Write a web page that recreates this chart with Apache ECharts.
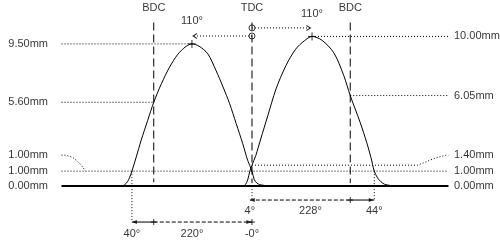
<!DOCTYPE html>
<html>
<head>
<meta charset="utf-8">
<script src="https://cdn.jsdelivr.net/npm/echarts@6/dist/echarts.min.js"></script>
<style>html,body{margin:0;padding:0;background:#fff}#c{width:500px;height:240px}</style>
</head>
<body>
<div id="c"></div>
<script>
// ---- data (crank degrees, TDC = 0; lift in mm) ----
const refNames = ['BDC', 'TDC', 'BDC'];
const refAngles = [-180, 0, 180];
const exhaustLift = [[-238,0],[-233,0.1],[-228,0.3],[-224,0.6],[-220,1.0],[-212,1.95],[-203,3.07],[-191,4.4],[-180,5.6],[-166,6.84],[-151,7.95],[-136,8.8],[-121,9.33],[-110,9.5],[-97,9.35],[-81,8.84],[-66,7.73],[-53,6.62],[-41,5.51],[-29,4.18],[-17,2.84],[-8,1.73],[0,1.0],[4,0.45],[9,0.2],[14,0.1],[22,0.05],[30,0]];
const intakeLift = [[-16,0],[-12,0.1],[-8,0.4],[-4,1.0],[0,1.4],[7,2.05],[16,3.15],[29,4.71],[44,6.49],[62,8.04],[80,9.15],[96,9.71],[110,10],[128,9.75],[150,8.9],[168,7.4],[180,6.05],[198,4.27],[210,2.93],[218,1.9],[224,1.0],[230,0.55],[236,0.3],[243,0.12],[252,0.05],[258,0]];
const exhaustPeak = [-110, 9.5];
const intakePeak = [110, 10.0];
const checkLift = 1.0;
const exhaustOpen = -220, exhaustClose = 0;
const intakeOpen = -4, intakeClose = 224;
const exhaustAtBDC = 5.6, intakeAtBDC = 6.05;
const exhaustAtTDC = 1.0, intakeAtTDC = 1.4;
const leftTickLabels = ['9.50mm', '5.60mm', '1.00mm', '1.00mm', '0.00mm'];
const rightTickLabels = ['10.00mm', '6.05mm', '1.40mm', '1.00mm', '0.00mm'];
const peakLabels = ['110°', '110°'];
const exhaustTimingLabels = ['40°', '220°', '-0°'];
const intakeTimingLabels = ['4°', '228°', '44°'];

// ---- layout constants ----
const X_MIN = -349, X_MAX = 360;
const TOP_TEXT = 11.87, REF_TOP = 10.93;
const ROW_IN = -0.93, ROW_EX = -2.4, LAB_IN = -1.67, LAB_EX = -3.2;
const LEADER = 2.07;
const DOT = [1, 2], DASH = [8, 4];
const FONT = { fontFamily: 'Liberation Sans, Arial, sans-serif', fontSize: 11, color: '#000' };

const series = [];
function seg(points, type, width) {
  series.push({ type: 'line', data: points, symbol: 'none', silent: true, animation: false,
    lineStyle: { color: '#000', width: width || 1, type: type || 'solid' } });
}
function marks(points, symbol, size, filled, offset) {
  series.push({ type: 'scatter', data: points, symbol: symbol, symbolSize: size, silent: true,
    animation: false, clip: false, symbolOffset: offset || [0, 0],
    itemStyle: filled ? { color: '#000' } : { color: 'transparent', borderColor: '#000', borderWidth: 1 } });
}
function texts(points, position, distance) {
  series.push({ type: 'scatter', data: points, symbolSize: 1, silent: true, animation: false, clip: false,
    itemStyle: { color: 'transparent' },
    label: Object.assign({ show: true, position: position, distance: distance || 0,
      formatter: p => p.value[2] }, FONT) });
}

// curves
seg(exhaustLift, 'solid', 1);
seg(intakeLift, 'solid', 1);
series[0].smooth = 0.3; series[1].smooth = 0.3;
// baseline
seg([[X_MIN, 0], [X_MAX, 0]], 'solid', 2);

// reference lines BDC / TDC
seg([[refAngles[0], REF_TOP], [refAngles[0], 0.27]], DASH);
seg([[refAngles[1], REF_TOP], [refAngles[1], 0.2]], DASH);
seg([[refAngles[2], REF_TOP], [refAngles[2], 0.2]], DASH);

// horizontal dotted guides
seg([[X_MIN, exhaustPeak[1]], [exhaustPeak[0], exhaustPeak[1]]], DOT);
seg([[X_MIN, exhaustAtBDC], [refAngles[0], exhaustAtBDC]], DOT);
seg([[X_MIN, checkLift], [X_MAX, checkLift]], DOT);
seg([[X_MIN, LEADER], [-342, LEADER], [-329, 1.93], [-322, 1.73], [-316, 1.53], [-310, 1.27], [-305, checkLift]], DOT);
seg([[intakePeak[0], intakePeak[1]], [X_MAX, intakePeak[1]]], DOT);
seg([[refAngles[2], intakeAtBDC], [X_MAX, intakeAtBDC]], DOT);
seg([[refAngles[1], intakeAtTDC], [303, intakeAtTDC], [314, 1.55], [327, 1.75], [340, 1.92], [356, LEADER], [X_MAX, LEADER]], DOT);

// peak arrows from TDC
const exArrowY = exhaustPeak[1] + 0.53, inArrowY = intakePeak[1] + 0.57;
seg([[refAngles[1], exArrowY], [exhaustPeak[0] + 2, exArrowY]], DOT);
seg([[refAngles[1], inArrowY], [intakePeak[0] - 3, inArrowY]], DOT);
marks([[exhaustPeak[0] + 2, exArrowY]], 'path://M5,0L0,3L5,6', [4, 5], false, [2, 0]);
marks([[intakePeak[0] - 3, inArrowY]], 'path://M0,0L5,3L0,6', [4, 5], false, [-2, 0]);
marks([[refAngles[1], exArrowY], [refAngles[1], inArrowY]], 'circle', 6, false);
marks([exhaustPeak, intakePeak], 'path://M0,4L8,4M4,0L4,8', 8, false);

// timing verticals
seg([[exhaustOpen, checkLift], [exhaustOpen, ROW_EX]], DOT);
seg([[intakeClose, checkLift], [intakeClose, ROW_IN]], DOT);
seg([[refAngles[1], 0], [refAngles[1], ROW_IN]], DOT);

// timing rows
seg([[exhaustOpen, ROW_EX], [refAngles[0], ROW_EX]], 'solid');
seg([[refAngles[0], ROW_EX], [exhaustClose, ROW_EX]], [4, 2]);
seg([[intakeOpen, ROW_IN], [refAngles[2], ROW_IN]], [4, 2]);
seg([[refAngles[2], ROW_IN], [intakeClose, ROW_IN]], 'solid');
marks([[refAngles[0], ROW_EX], [refAngles[1], ROW_EX], [refAngles[2], ROW_IN]], 'path://M0,3L6,3M3,0L3,6', 6, false);
marks([[exhaustOpen, ROW_EX], [intakeOpen, ROW_IN]], 'path://M0,2L5,0L5,4Z', [5, 4], true, [2.5, 0]);
marks([[exhaustClose - 1, ROW_EX], [intakeClose - 1, ROW_IN]], 'path://M5,2L0,0L0,4Z', [5, 4], true, [-2.5, 0]);

// texts
texts(refAngles.map((a, i) => [a, TOP_TEXT, refNames[i]]), 'inside');
texts([[exhaustPeak[0], exhaustPeak[1] + 1.5, peakLabels[0]], [intakePeak[0], intakePeak[1] + 1.47, peakLabels[1]]], 'inside');
const leftY = [exhaustPeak[1], exhaustAtBDC, LEADER, checkLift, 0];
const rightY = [intakePeak[1], intakeAtBDC, LEADER, checkLift, 0];
texts(leftTickLabels.map((t, i) => [X_MIN, leftY[i], t]), 'left', 13);
texts(rightTickLabels.map((t, i) => [X_MAX, rightY[i], t]), 'right', 5);
texts([[exhaustOpen, LAB_EX, exhaustTimingLabels[0]], [(exhaustOpen + exhaustClose) / 2, LAB_EX, exhaustTimingLabels[1]], [exhaustClose, LAB_EX, exhaustTimingLabels[2]]], 'inside');
texts([[intakeOpen, LAB_IN, intakeTimingLabels[0]], [(intakeOpen + intakeClose) / 2 - 3, LAB_IN, intakeTimingLabels[1]], [intakeClose, LAB_IN, intakeTimingLabels[2]]], 'inside');

const chart = echarts.init(document.getElementById('c'), null, { renderer: 'canvas' });
chart.setOption({
  animation: false,
  backgroundColor: '#fff',
  grid: { left: 61.5, top: 6.5, width: 387, height: 234 },
  xAxis: { type: 'value', min: X_MIN, max: X_MAX, show: false },
  yAxis: { type: 'value', min: -3.6, max: 12, show: false },
  series: series
});
</script>
</body>
</html>
